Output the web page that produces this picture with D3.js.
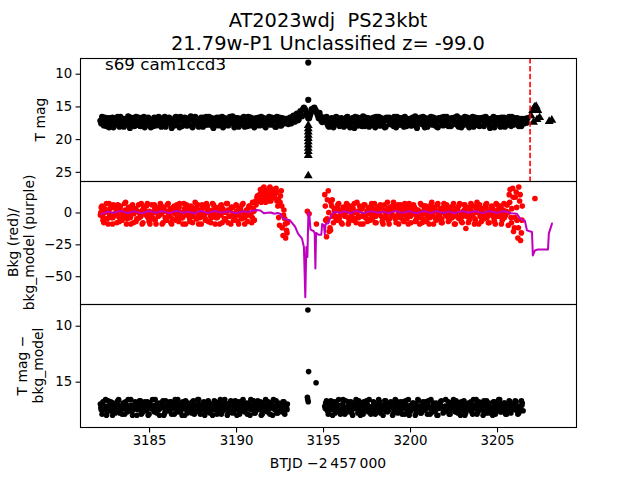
<!DOCTYPE html>
<html><head><meta charset="utf-8">
<script src="https://cdn.jsdelivr.net/npm/d3@7"></script>
<style>body{margin:0;background:#fff}svg{display:block}text{font-family:"DejaVu Sans",sans-serif;white-space:pre}</style>
</head><body><svg id="c" width="640" height="480"></svg>
<script>
// ---------------- data ----------------
const titleLines = ["AT2023wdj  PS23kbt", "21.79w-P1 Unclassified z= -99.0"];
const annotation = "s69 cam1ccd3";
const xTicks = [3185, 3190, 3195, 3200, 3205];
const topTicks = [10, 15, 20, 25];
const midTicks = [0, -25, -50];
const botTicks = [10, 15];
const cadence = 0.1;
const markerTime = 3206.9;

// top panel: T mag, two interleaved sample sets
const topStart = 3182.2;
const topMag = [
17.2,16.6,17.9,17.4,16.8,18.2,17.1,16.7,17.8,17.3,
16.6,18.1,17.5,16.9,17.7,17.2,16.5,18.3,17.4,16.8,
17.9,17.1,16.7,18.0,17.3,16.6,17.8,17.4,16.9,18.2,
17.2,16.7,17.9,17.5,16.8,18.1,17.0,16.6,17.7,17.3,
16.9,18.3,17.4,16.7,17.8,17.1,16.6,18.0,17.5,16.8,
17.9,17.2,16.5,18.2,17.3,16.9,17.7,17.4,16.7,18.1,
17.1,16.6,17.8,17.5,16.8,18.3,17.2,16.7,17.9,17.3,
16.6,18.0,17.4,16.9,17.7,17.1,16.5,18.2,17.5,16.8,
17.8,17.3,16.7,18.1,17.2,16.6,17.9,17.4,16.9,18.0,
17.1,16.7,17.7,17.5,16.8,18.2,17.3,16.6,17.8,17.2,
16.8,18.1,17.4,16.7,17.9,17.2,16.9,
16.9,17.7,16.7,17.5,16.4,17.3,16.1,17.0,15.7,16.5,15.2,15.6,16.3,16.8,16.0,15.5,15.2,15.7,16.4,16.0,17.2,16.7,
17.3,16.6,18.0,17.4,16.8,18.2,17.1,16.7,17.8,17.3,
16.9,18.1,17.5,16.6,17.7,17.2,16.8,18.3,17.4,16.7,
17.9,17.1,16.5,18.0,17.3,16.8,17.8,17.5,16.7,18.2,
17.2,16.6,17.9,17.4,16.9,18.1,17.0,16.7,17.7,17.3,
16.6,18.2,17.5,16.8,17.8,17.1,16.6,18.0,17.4,16.9,
17.9,17.2,16.5,18.3,17.3,16.7,17.7,17.5,16.8,18.1,
17.1,16.6,17.8,17.4,16.9,18.2,17.2,16.7,17.9,17.3,
16.6,18.0,17.5,16.8,17.7,17.1,16.5,18.1,17.4,16.9,
17.8,17.2,16.7,18.2,17.3,16.6,17.9,17.5,16.8,18.0,
17.1,16.7,17.7,17.4,16.9,18.3,17.2,16.6,17.8,17.3,
16.8,18.1,17.5,16.7,17.9,17.1,16.6,18.0,17.4,16.8,
17.7,17.2,16.9,18.0,17.4,16.9,17.5
];
const topStart2 = 3182.25;
const topMag2 = [
17.6,17.0,16.7,18.0,17.3,16.8,17.5,18.2,16.9,17.1,
17.8,16.6,17.2,18.1,16.9,17.5,17.9,16.7,17.1,18.0,
16.6,17.4,17.9,16.8,17.6,18.2,17.0,16.7,17.5,17.1,
18.0,16.9,17.3,16.6,17.8,17.4,16.8,18.1,17.0,16.7,
17.6,17.1,17.9,16.6,17.4,18.2,16.9,17.2,16.7,17.9,
17.3,16.8,18.0,17.0,16.6,17.7,18.1,16.9,17.3,16.7,
17.8,17.4,16.6,17.1,18.0,16.9,17.5,17.8,16.7,17.1,
18.2,16.8,17.2,17.9,16.6,17.5,17.0,16.8,17.8,18.1,
16.9,17.4,16.6,17.6,18.0,17.0,16.7,17.3,18.2,16.8,
17.5,17.9,16.6,17.1,18.0,16.9,17.4,17.7,16.7,17.2,
18.1,16.6,17.3,17.9,16.8,17.6,17.1,
17.3,16.9,17.6,16.6,17.3,16.3,17.1,16.2,16.4,15.4,15.4,16.0,16.8,16.4,15.4,15.3,15.5,16.0,16.8,16.5,17.4,17.0,
16.8,17.7,18.1,16.9,17.2,17.6,16.6,17.4,18.0,16.8,
17.1,17.8,16.7,17.3,18.2,16.9,17.5,16.6,17.9,17.2,
16.8,18.0,17.4,16.7,17.6,18.1,16.9,17.1,17.8,16.6,
17.3,17.9,16.8,17.5,18.2,16.7,17.2,17.7,16.9,18.0,
17.4,16.6,17.8,17.1,16.8,18.1,17.5,16.9,17.2,17.9,
16.7,17.3,18.0,16.8,17.6,17.1,16.6,18.2,17.4,16.9,
17.7,17.0,16.7,17.9,18.1,16.8,17.3,17.6,16.6,17.8,
17.2,16.9,18.0,17.5,16.7,17.1,17.9,16.8,18.2,17.3,
16.6,17.6,17.8,16.9,17.2,18.1,16.7,17.4,17.9,16.8,
17.1,18.0,16.6,17.5,17.7,16.9,17.3,18.2,16.8,17.6,
17.0,16.7,17.9,18.1,16.9,17.4,17.6,16.6,17.8,17.2,
16.8,18.0,17.3,16.9,17.6,17.2,16.8
];
// top panel extra detections (circles)
const topExtraT = [3194.15, 3194.15];
const topExtraMag = [14.0, 8.3];
// top panel upper limits (triangles)
const ulT = [3194.15,3194.15,3194.15,3194.15,3194.15,3194.15,3194.15,3194.15,3194.15,3194.15,3194.15,
             3206.95,3207.05,3207.1,3207.15,3207.25,3207.3,3207.35,3207.45,3208.0,3208.15];
const ulMag = [17.9,18.4,18.9,19.4,19.9,20.4,20.9,21.4,21.9,22.5,25.6,
               16.4,15.6,17.4,15.1,15.0,17.0,15.6,16.7,17.3,17.1];

// middle panel: background (red), three interleaved sample sets per segment
const bkgStartA = 3182.2;
const bkgA = [
-2,5,-8,1,-5,7,-3,-9,4,-1,
6,-7,0,-4,7,-9,2,-2,5,-8,
1,-5,6,-3,-9,4,-1,7,-7,0,
-4,6,-9,2,-2,5,-8,1,-6,7,
-3,-9,4,-1,6,-7,0,-4,7,-9,
2,-2,5,-8,1,-5,6,-3,-9,4,
-1,7,-7,0,-4,6,-9,2,-2,5,
-8,1,-6,7,-3,-9,4,-1,6,-7,
0,-4,7,-9,2,-2,5,-8,3,8,
12,9,18,10,20,8,16,19,9,17,
14,19,5,-10,17,-18,-5,-14
];
const bkgStartA2 = 3182.25;
const bkgA2 = [
4,-6,0,7,-9,3,-4,6,-1,-8,
2,5,-6,-2,8,-5,0,-9,6,3,
-7,1,-4,7,-8,2,5,-3,-9,6,
0,-6,4,-2,7,-9,3,-5,6,-1,
-8,2,5,-6,0,7,-4,-9,3,6,
-2,-7,4,0,8,-5,-9,2,6,-3,
-6,5,1,-8,7,-2,-4,3,-9,6,
0,-5,7,-8,2,4,-6,-1,5,-9,
3,6,-4,0,-7,5,-2,8,
-6,6,10,14,8,19,12,17,9,20,
11,18,15,9,-4,13,-12,2,-20,-8
];
const bkgStartA3 = 3182.23;
const bkgA3 = [
0,-3,3,-5,1,-2,4,-4,-1,2,
-3,3,-5,0,2,-2,4,-4,1,-1,
3,-5,0,-3,2,4,-2,-4,1,-1,
-5,3,0,-3,2,-1,4,-4,1,-2,
3,-5,0,2,-3,4,-1,-4,1,-2,
3,-5,0,-3,2,4,-2,-4,1,-1,
-5,3,0,-3,2,-1,4,-4,1,-2,
3,-5,0,2,-3,4,-1,-4,1,-2,
3,-5,0,-3,2,4,-2,-4,
1,9,13,11,15,12,16,13,14,12,
15,13,12,16,10,8,5,-2,-9,-16
];
const bkgStartB = 3195.1;
const bkgB = [
14,-19,17,-12,5,-8,
3,-6,7,-2,-9,4,0,6,-7,2,
-4,7,-8,1,5,-3,-9,6,-1,3,
-6,7,-2,-8,4,0,6,-7,2,-4,
8,-9,1,5,-3,-8,6,-1,3,-6,
7,-2,-9,4,0,6,-7,2,-4,7,
-8,1,5,-3,-9,6,-1,3,-6,7,
-2,-8,4,0,6,-7,2,-4,7,-9,
1,5,-3,-8,6,-1,3,-6,7,-2,
-9,4,0,6,-7,2,-4,7,-8,1,
5,-3,-9,6,-1,3,-6,7,-2,
6,14,-4,19,-12,16,-20,9,-16
];
const bkgStartB2 = 3195.15;
const bkgB2 = [
-6,10,-15,8,-3,2,
-5,6,1,-8,4,-3,7,-9,2,5,
-6,0,8,-4,-9,3,6,-2,-7,4,
1,-5,7,-8,2,5,-3,-9,6,0,
-6,4,-2,8,-5,3,-9,6,1,-7,
5,-3,7,-8,0,4,-6,2,-9,6,
-1,5,-7,3,-4,8,-9,1,6,-5,
2,-8,7,-2,4,-6,0,5,-9,3,
-4,7,-7,1,6,-3,-8,4,-1,5,
-6,8,-9,2,3,-5,6,-2,-8,4,
0,-7,7,-3,5,-9,2,-1,6,
-10,18,3,-15,12,-6,20,-22,5
];
const bkgStartB3 = 3195.13;
const bkgB3 = [
5,-5,0,-14,10,-2,
-3,3,-5,0,2,-2,4,-4,1,-1,
3,-5,0,-3,2,4,-2,-4,1,-1,
-5,3,0,-3,2,-1,4,-4,1,-2,
3,-5,0,2,-3,4,-1,-4,1,-2,
3,-5,0,-3,2,4,-2,-4,1,-1,
-5,3,0,-3,2,-1,4,-4,1,-2,
3,-5,0,2,-3,4,-1,-4,1,-2,
3,-5,0,-3,2,4,-2,-4,1,-1,
-5,3,0,-3,2,-1,4,-4,1,-2,
3,-5,0,2,-3,4,-1,-4,1,
0,8,-8,12,-4,4,-12,14,-6
];
const bkgExtraT = [3194.1, 3194.2, 3194.62, 3203.21, 3207.18];
const bkgExtra = [1, -1, -9, -12.6, 11];

// middle panel: background model (purple)
const modelFlatStartA = 3182.2, modelFlatStepA = 0.2;
const modelFlatA = [
-1.5,-0.5,0.6,0.2,-0.4,0.8,1.1,0.3,-0.6,0.5,
0.9,0.0,-0.7,0.4,1.2,0.6,-0.2,0.7,1.0,0.1,
-0.5,0.6,1.3,0.4,-0.3,0.8,0.2,-0.8,0.5,1.1,
0.3,-0.4,0.7,1.2,0.5,-0.2,0.6,0.9,0.1,-0.6,
0.4,1.0,0.3,0.8,1.5,1.9,1.6
];
const modelMidT = [3191.6,3191.8,3192.0,3192.2,3192.4,3192.55,3192.7,3192.9,3193.1,3193.3,3193.4,3193.56,3193.79,3193.9,3193.98,3194.04,3194.1,3194.16,3194.2,3194.28,3194.45,3194.52,3194.56,3194.6,3194.75,3194.9,3194.95,3195.05,3195.1,3195.15,3195.3,3195.45,3195.6];
const modelMid  = [-0.6,-0.2,0.0,-1.0,-0.4,-1.2,-4.7,-5.5,-6.1,-9.5,-11.3,-16.6,-20.5,-27.1,-66.5,-27.0,-35.0,0.0,0.0,-13.5,-14.5,-16.0,-44.0,-16.0,-17.5,-17.5,-9.0,-10.0,-17.0,-9.0,-8.5,-3.0,0.2];
const modelFlatStartB = 3195.8, modelFlatStepB = 0.2;
const modelFlatB = [
0.5,-0.3,0.9,0.2,-0.6,0.7,1.1,0.0,-0.5,0.6,
1.0,0.3,-0.4,0.8,0.1,-0.7,0.5,1.2,0.2,-0.3,
0.7,0.9,-0.1,-0.6,0.4,1.1,0.3,-0.5,0.6,1.0,
0.0,-0.4,0.8,0.2,-0.6,0.5,1.2,0.4,-0.2,0.7,
1.0,0.1,-0.5,0.6,0.9,0.3,-0.3,0.5,1.0,0.4,-0.6
];
const modelEndT = [3206.0,3206.14,3206.32,3206.49,3206.6,3206.72,3207.01,3207.06,3207.18,3207.35,3207.93,3207.98,3208.16,3208.21];
const modelEnd  = [-0.8,-1.0,-4.6,-6.1,-6.5,-14,-15.3,-33.7,-29.7,-29,-29,-16.4,-8.7,-8.7];

// bottom panel: T mag - bkg_model, three interleaved sample sets per segment
const diffStartA = 3182.2;
const diffA = [
17.0,17.9,17.2,16.6,17.7,17.4,16.8,18.0,17.1,17.5,
16.7,17.8,17.3,16.9,17.9,17.4,16.6,17.6,17.1,17.5,
16.8,18.0,17.2,16.7,17.8,17.1,17.5,16.8,17.9,17.3,
16.6,17.7,17.4,16.9,18.0,17.1,16.7,17.8,17.2,17.5,
16.8,17.9,17.1,16.6,17.7,17.4,16.9,18.0,17.3,16.7,
17.8,17.1,17.5,16.8,17.9,17.2,16.6,17.7,17.4,16.9,
18.0,17.1,16.7,17.8,17.3,17.5,16.8,17.9,17.2,16.6,
17.7,17.4,16.9,18.0,17.2,16.7,17.8,17.1,17.5,16.8,
17.9,17.3,16.6,17.7,17.4,16.9,18.0,17.1,16.7,17.8,
17.2,17.5,16.8,17.9,17.1,16.6,17.7,17.4,16.9,18.0,
17.2,16.7,17.8,17.1,17.5,16.8,17.9,17.3
];
const diffStartA2 = 3182.25;
const diffA2 = [
17.5,16.8,17.3,18.0,16.7,17.1,17.6,16.9,17.8,17.2,
16.6,17.4,17.9,17.0,16.8,17.7,17.2,16.6,18.0,17.3,
17.0,17.5,16.7,17.9,17.1,16.8,17.6,18.0,16.9,17.4,
17.2,16.6,17.8,17.5,16.9,17.1,18.0,16.7,17.3,17.6,
16.8,17.4,17.9,17.0,16.6,17.7,17.2,16.8,18.0,17.5,
16.9,17.3,17.8,16.7,17.1,17.6,16.6,17.9,17.4,16.8,
17.2,17.7,16.9,17.5,18.0,16.7,17.1,17.6,16.8,17.9,
17.3,16.6,17.5,17.8,16.9,17.2,17.7,16.7,18.0,17.4,
16.8,17.1,17.6,16.9,17.9,17.3,16.6,17.5,17.8,17.0,
16.7,17.4,18.0,16.9,17.2,17.6,16.8,17.9,17.3,16.6,
17.5,17.8,16.9,17.2,17.7,16.8,17.4,17.0
];
const diffStartA3 = 3182.23;
const diffA3 = [
17.3,17.0,17.5,17.2,17.6,17.1,17.4,17.0,17.3,17.5,
17.1,17.6,17.2,17.4,17.0,17.3,17.5,17.1,17.6,17.2,
17.4,17.0,17.3,17.5,17.1,17.6,17.2,17.4,17.0,17.3,
17.5,17.1,17.6,17.2,17.4,17.0,17.3,17.5,17.1,17.6,
17.2,17.4,17.0,17.3,17.5,17.1,17.6,17.2,17.4,17.0,
17.3,17.5,17.1,17.6,17.2,17.4,17.0,17.3,17.5,17.1,
17.6,17.2,17.4,17.0,17.3,17.5,17.1,17.6,17.2,17.4,
17.0,17.3,17.5,17.1,17.6,17.2,17.4,17.0,17.3,17.5,
17.1,17.6,17.2,17.4,17.0,17.3,17.5,17.1,17.6,17.2,
17.4,17.0,17.3,17.5,17.1,17.6,17.2,17.4,17.0,17.3,
17.5,17.1,17.6,17.2,17.4,17.0,17.3,17.5
];
const diffStartB = 3195.1;
const diffB = [
17.2,16.7,17.9,17.1,17.5,16.8,17.8,17.4,16.6,17.9,
17.1,17.5,16.7,17.7,17.3,16.8,18.0,17.1,16.6,17.8,
17.4,16.9,17.9,17.2,16.7,17.7,17.3,17.5,16.8,17.9,
17.2,16.6,17.8,17.1,17.5,16.7,17.7,17.4,16.8,18.0,
17.1,16.7,17.8,17.3,17.5,16.8,17.9,17.1,16.6,17.7,
17.4,16.9,18.0,17.2,16.7,17.8,17.1,17.5,16.8,17.9,
17.3,16.6,17.7,17.4,16.9,18.0,17.1,16.7,17.8,17.2,
17.5,16.8,17.9,17.1,16.6,17.7,17.4,16.9,18.0,17.3,
16.7,17.8,17.1,17.5,16.8,17.9,17.2,16.6,17.7,17.4,
16.9,18.0,17.1,16.7,17.8,17.3,17.5,16.8,17.9,17.2,
16.6,17.7,17.4,16.9,17.9,17.2,16.7,17.8,17.1,17.5,
16.8,17.9,17.3,16.7,17.6
];
const diffStartB2 = 3195.15;
const diffB2 = [
16.9,17.6,17.2,16.7,18.0,17.4,16.8,17.1,17.7,17.3,
16.6,17.9,17.5,16.8,17.2,17.8,16.9,17.4,17.0,16.7,
18.0,17.3,16.8,17.6,17.1,16.6,17.9,17.5,16.9,17.2,
17.7,16.8,17.4,18.0,16.7,17.1,17.6,16.9,17.3,17.8,
16.6,17.5,17.0,16.8,17.9,17.3,16.7,17.6,18.0,17.1,
16.9,17.4,17.7,16.6,17.2,17.8,16.8,17.5,17.0,16.7,
17.9,17.3,16.9,17.6,18.0,17.1,16.8,17.4,17.7,16.6,
17.2,17.9,16.9,17.5,17.0,16.7,17.8,17.3,16.8,17.6,
18.0,17.1,16.9,17.4,17.7,16.6,17.3,17.9,16.8,17.5,
17.1,16.7,17.8,17.2,16.9,17.6,18.0,16.8,17.4,17.0,
16.6,17.7,17.3,16.9,17.9,17.2,16.8,17.5,17.1,16.7,
17.6,17.8,17.2,16.9
];
const diffStartB3 = 3195.13;
const diffB3 = [
17.4,17.1,17.6,17.2,17.0,17.5,17.3,17.1,17.6,17.4,
17.0,17.3,17.5,17.2,17.6,17.1,17.4,17.0,17.3,17.5,
17.2,17.6,17.1,17.4,17.0,17.3,17.5,17.2,17.6,17.1,
17.4,17.0,17.3,17.5,17.2,17.6,17.1,17.4,17.0,17.3,
17.5,17.2,17.6,17.1,17.4,17.0,17.3,17.5,17.2,17.6,
17.1,17.4,17.0,17.3,17.5,17.2,17.6,17.1,17.4,17.0,
17.3,17.5,17.2,17.6,17.1,17.4,17.0,17.3,17.5,17.2,
17.6,17.1,17.4,17.0,17.3,17.5,17.2,17.6,17.1,17.4,
17.0,17.3,17.5,17.2,17.6,17.1,17.4,17.0,17.3,17.5,
17.2,17.6,17.1,17.4,17.0,17.3,17.5,17.2,17.6,17.1,
17.4,17.0,17.3,17.5,17.2,17.6,17.1,17.4,17.0,17.3,
17.5,17.2,17.6,17.1
];
const diffExtraT = [3194.13, 3194.17, 3194.6, 3194.1, 3194.12, 3194.15];
const diffExtra = [8.6, 14.1, 15.1, 16.4, 16.6, 16.8];

// ---------------- helpers ----------------
const seq = (start, step, vals) => vals.map((v, i) => [+(start + i * step).toFixed(3), v]);
const pairs = (ts, vs) => ts.map((t, i) => [t, vs[i]]);

const svg = d3.select("#c");
const L = 80, R = 576;
const P = [{top:58, bot:181}, {top:181, bot:304}, {top:304, bot:427}];

const x = d3.scaleLinear().domain([3181.03, 3209.54]).range([L, R]);
const yTop = d3.scaleLinear().domain([7.6, 26.4]).range([P[0].top, P[0].bot]);
const yMid = d3.scaleLinear().domain([24.7, -71.8]).range([P[1].top, P[1].bot]);
const yBot = d3.scaleLinear().domain([8.06, 19.05]).range([P[2].top, P[2].bot]);

const defs = svg.append("defs");
P.forEach((p, i) => {
  defs.append("clipPath").attr("id", "clip" + i).append("rect")
    .attr("x", L).attr("y", p.top).attr("width", R - L).attr("height", p.bot - p.top);
});
const panel = i => svg.append("g").attr("clip-path", `url(#clip${i})`);

// --- top panel ---
const gT = panel(0);
const topData = seq(topStart, cadence, topMag).concat(seq(topStart2, cadence, topMag2), pairs(topExtraT, topExtraMag));
gT.selectAll("circle").data(topData).join("circle")
  .attr("cx", d => x(d[0])).attr("cy", d => yTop(d[1])).attr("r", 3.1).attr("fill", "#000");
const tri = d3.symbol().type(d3.symbolTriangle).size(34);
gT.selectAll("path.ul").data(pairs(ulT, ulMag)).join("path").attr("class", "ul")
  .attr("d", tri).attr("transform", d => `translate(${x(d[0])},${yTop(d[1])})`).attr("fill", "#000");
gT.append("line").attr("x1", x(markerTime)).attr("x2", x(markerTime))
  .attr("y1", P[0].top).attr("y2", P[0].bot)
  .attr("stroke", "#ff0000").attr("stroke-width", 1.6).attr("stroke-dasharray", "5.5,2.4");

// --- middle panel ---
const gM = panel(1);
const bkgData = seq(bkgStartA, cadence, bkgA).concat(seq(bkgStartA2, cadence, bkgA2), seq(bkgStartA3, cadence, bkgA3),
  seq(bkgStartB, cadence, bkgB), seq(bkgStartB2, cadence, bkgB2), seq(bkgStartB3, cadence, bkgB3), pairs(bkgExtraT, bkgExtra));
gM.selectAll("circle").data(bkgData).join("circle")
  .attr("cx", d => x(d[0])).attr("cy", d => yMid(d[1])).attr("r", 2.8).attr("fill", "#ff0000");
const modelData = seq(modelFlatStartA, modelFlatStepA, modelFlatA)
  .concat(pairs(modelMidT, modelMid), seq(modelFlatStartB, modelFlatStepB, modelFlatB), pairs(modelEndT, modelEnd));
gM.append("path").datum(modelData)
  .attr("d", d3.line().x(d => x(d[0])).y(d => yMid(d[1])))
  .attr("fill", "none").attr("stroke", "#bf00bf").attr("stroke-width", 2).attr("stroke-linejoin", "round");

// --- bottom panel ---
const gB = panel(2);
const diffData = seq(diffStartA, cadence, diffA).concat(seq(diffStartA2, cadence, diffA2), seq(diffStartA3, cadence, diffA3),
  seq(diffStartB, cadence, diffB), seq(diffStartB2, cadence, diffB2), seq(diffStartB3, cadence, diffB3), pairs(diffExtraT, diffExtra));
gB.selectAll("circle").data(diffData).join("circle")
  .attr("cx", d => x(d[0])).attr("cy", d => yBot(d[1])).attr("r", 2.8).attr("fill", "#000");

// --- frames & axes ---
P.forEach(p => {
  svg.append("rect").attr("x", L + 0.5).attr("y", p.top + 0.5).attr("width", R - L).attr("height", p.bot - p.top)
    .attr("fill", "none").attr("stroke", "#000").attr("stroke-width", 1.1);
});
function styleAxis(g) {
  g.select(".domain").remove();
  g.selectAll(".tick line").attr("stroke", "#000").attr("stroke-width", 1.1);
  g.selectAll(".tick text").attr("font-family", "DejaVu Sans").attr("font-size", 13.3).attr("fill", "#000");
}
svg.append("g").attr("transform", `translate(${L + 0.5},0)`)
  .call(d3.axisLeft(yTop).tickValues(topTicks).tickSize(4.9).tickPadding(3.5)).call(styleAxis);
svg.append("g").attr("transform", `translate(${L + 0.5},0)`)
  .call(d3.axisLeft(yMid).tickValues(midTicks).tickSize(4.9).tickPadding(3.5)).call(styleAxis);
svg.append("g").attr("transform", `translate(${L + 0.5},0)`)
  .call(d3.axisLeft(yBot).tickValues(botTicks).tickSize(4.9).tickPadding(3.5)).call(styleAxis);
svg.append("g").attr("transform", `translate(0,${P[2].bot + 0.5})`)
  .call(d3.axisBottom(x).tickValues(xTicks).tickFormat(d3.format("d")).tickSize(4.9).tickPadding(3.5)).call(styleAxis);

// --- texts ---
svg.append("text").attr("x", (L + R) / 2).attr("y", 27).attr("text-anchor", "middle")
  .attr("font-size", 19.4).attr("xml:space", "preserve").text(titleLines[0]);
svg.append("text").attr("x", (L + R) / 2).attr("y", 50).attr("text-anchor", "middle")
  .attr("font-size", 19.4).text(titleLines[1]);
svg.append("text").attr("x", 105).attr("y", 70).attr("font-size", 16.7).text(annotation);

function ylab(lines, xs, cy) {
  lines.forEach((s, i) => {
    svg.append("text").attr("transform", `translate(${xs[i]},${cy}) rotate(-90)`)
      .attr("text-anchor", "middle").attr("font-size", 13.9).text(s);
  });
}
ylab(["T mag"], [45], (P[0].top + P[0].bot) / 2);
ylab(["Bkg (red)/", "bkg_model (purple)"], [18, 34], (P[1].top + P[1].bot) / 2);
ylab(["T mag \u2212", "bkg_model"], [27, 43], (P[2].top + P[2].bot) / 2);
svg.append("text").attr("x", (L + R) / 2).attr("y", 468).attr("text-anchor", "middle")
  .attr("font-size", 13.9).text("BTJD \u22122\u2009457\u2009000");
</script></body></html>
